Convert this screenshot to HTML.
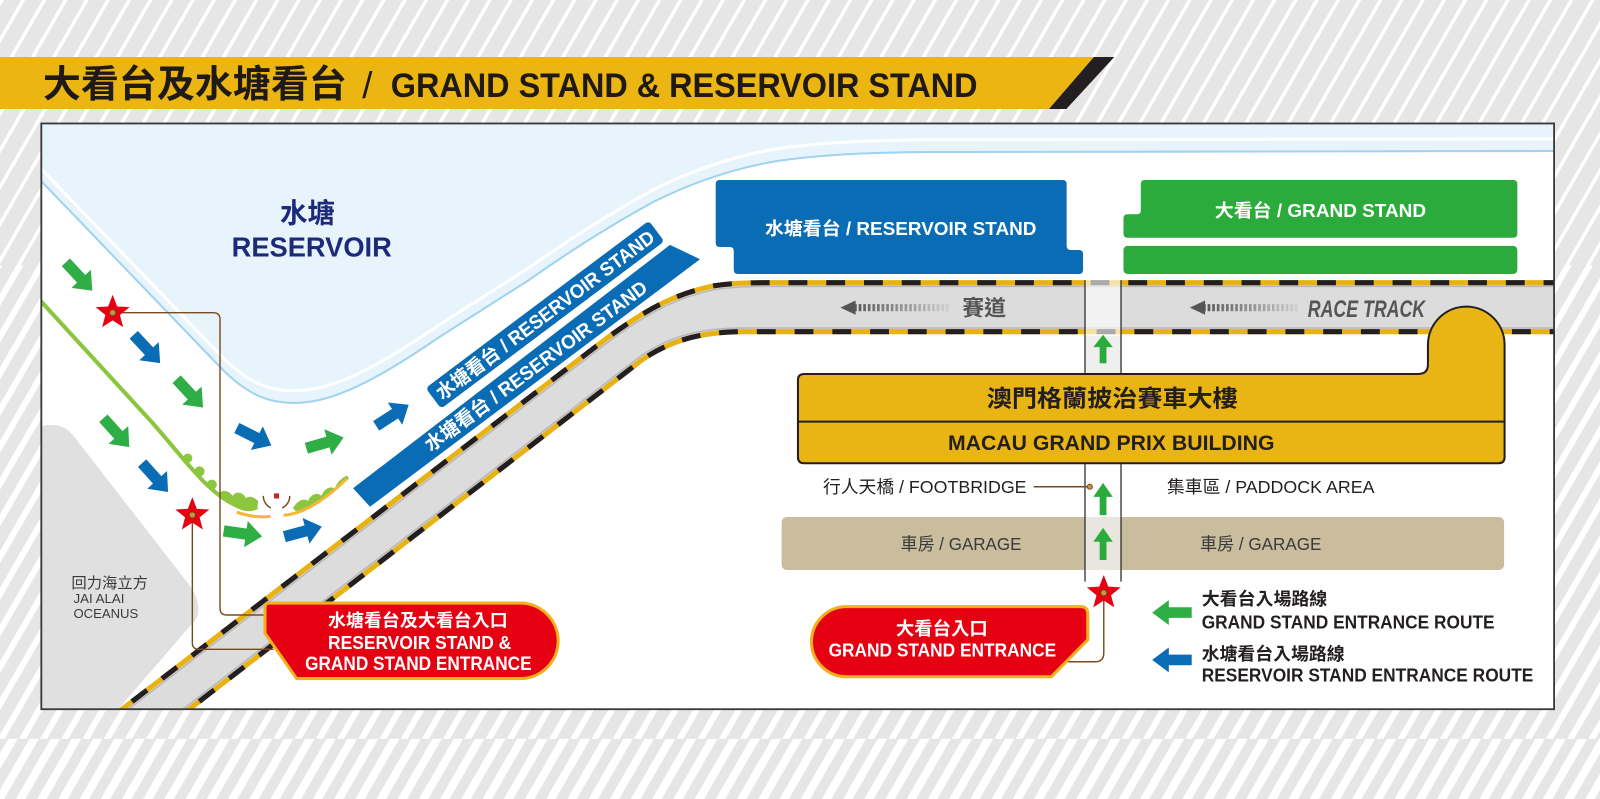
<!DOCTYPE html>
<html><head><meta charset="utf-8"><style>
html,body{margin:0;padding:0;width:1600px;height:799px;overflow:hidden;background:#e6e6e6}
svg{display:block}
text{font-family:"Liberation Sans","Noto Sans CJK TC",sans-serif}
</style></head><body>
<svg width="1600" height="799" viewBox="0 0 1568 783" preserveAspectRatio="none" xmlns="http://www.w3.org/2000/svg">
<defs>
 <pattern id="s1" width="18" height="18" patternUnits="userSpaceOnUse" patternTransform="rotate(30)"><rect width="3.4" height="18" fill="#fff"/></pattern>
 <pattern id="s2" width="18" height="18" patternUnits="userSpaceOnUse" patternTransform="rotate(30)"><rect width="6" height="18" fill="#fff"/></pattern>
 <pattern id="s3" width="18" height="18" patternUnits="userSpaceOnUse" patternTransform="rotate(30) translate(9,0)"><rect width="8" height="18" fill="#fff"/></pattern>
 <pattern id="bars" width="4.5" height="10" patternUnits="userSpaceOnUse"><rect width="2.6" height="10" fill="#555"/></pattern>
 <linearGradient id="fade" x1="0" x2="1" y1="0" y2="0"><stop offset="0" stop-color="#dcdcdc" stop-opacity="0"/><stop offset="1" stop-color="#dcdcdc" stop-opacity="0.92"/></linearGradient>
 <clipPath id="pc"><rect x="40.5" y="121" width="1482.5" height="574"/></clipPath>
 <polygon id="star" points="0,-17.5 4.41,-6.07 16.64,-5.41 7.13,2.32 10.29,14.16 0,7.5 -10.29,14.16 -7.13,2.32 -16.64,-5.41 -4.41,-6.07"/>
 <polygon id="arr" points="-19,-5.5 3,-5.5 3,-13 19,0 3,13 3,5.5 -19,5.5"/>
 <polygon id="up" points="0,-15 10,-2 3.5,-2 3.5,15 -3.5,15 -3.5,-2 -10,-2"/>
</defs>

<!-- background -->
<rect width="1568" height="783" fill="#e6e6e6"/>
<rect y="0" width="1568" height="260" fill="url(#s1)"/>
<rect y="260" width="1568" height="464" fill="url(#s2)"/>
<rect y="724" width="1568" height="59" fill="url(#s3)"/>

<!-- header -->
<polygon points="0,55.9 1072,55.9 1028,106.8 0,106.8" fill="#ebb512"/>
<polygon points="1072,55.9 1092,55.9 1045,106.8 1028,106.8" fill="#231f20"/>
<text x="42" y="95" font-size="37" font-weight="bold" fill="#1f1a17" textLength="298" lengthAdjust="spacingAndGlyphs">大看台及水塘看台</text>
<text x="355" y="96" font-size="36" fill="#1f1a17">/</text>
<text x="383" y="95" font-size="34" font-weight="bold" fill="#1f1a17" textLength="575" lengthAdjust="spacingAndGlyphs">GRAND STAND &amp; RESERVOIR STAND</text>

<!-- panel -->
<rect x="40.5" y="121" width="1482.5" height="574" fill="#fff"/>
<g clip-path="url(#pc)">
 <!-- reservoir -->
 <path d="M39,121 V176 L216,360 C245,390 270,398 301,394 C340,390 390,358 431,330 L519,274 C560,245 600,220 640,198 C680,178 720,165 760,158 C800,152 840,150 900,149 L1530,148 V121 Z" fill="#e8f4fc"/>
 <path d="M39,176 L216,360 C245,390 270,398 301,394 C340,390 390,358 431,330 L519,274 C560,245 600,220 640,198 C680,178 720,165 760,158 C800,152 840,150 900,149 L1530,148" fill="none" stroke="#fff" stroke-width="3" transform="translate(0,-12)"/>
 <path d="M39,176 L216,360 C245,390 270,398 301,394 C340,390 390,358 431,330 L519,274 C560,245 600,220 640,198 C680,178 720,165 760,158 C800,152 840,150 900,149 L1530,148" fill="none" stroke="#9fd3ef" stroke-width="2"/>
 <text x="274.4" y="218" font-size="27" font-weight="bold" fill="#1d2a7c" textLength="54" lengthAdjust="spacingAndGlyphs">水塘</text>
 <text x="227" y="251.5" font-size="27" font-weight="bold" fill="#1d2a7c" textLength="157" lengthAdjust="spacingAndGlyphs">RESERVOIR</text>

 <!-- jai alai -->
 <path d="M39,418 Q45,416 52,416.5 Q64,417 72,427 L183,570 Q200,592 192,607 L114,697 L39,697 Z" fill="#e0e0e0"/>
 <text x="70" y="576" font-size="14.5" fill="#3a3a3a" textLength="75" lengthAdjust="spacingAndGlyphs">回力海立方</text>
 <text x="72" y="591" font-size="12.5" fill="#3a3a3a" textLength="50" lengthAdjust="spacingAndGlyphs">JAI ALAI</text>
 <text x="72" y="605.5" font-size="12.5" fill="#3a3a3a" textLength="63.5" lengthAdjust="spacingAndGlyphs">OCEANUS</text>

 <!-- park -->
 <path d="M39,294 L150,415 C185,455 205,485 235,497 C242,500 248,499 252,497" stroke="#8cc63f" stroke-width="4" fill="none"/>
 <circle cx="184" cy="449" r="4.5" fill="#8cc63f"/>
 <circle cx="195.5" cy="462" r="5" fill="#8cc63f"/>
 <circle cx="207.5" cy="475" r="5" fill="#8cc63f"/>
 <path d="M212,484 C222,494 235,499 252,499 L253,491 C248,486 244,486 241,488 C238,482 231,481 228,486 C224,480 217,480 214,484 Z" fill="#8cc63f"/>
 <path d="M287,498 C292,490 298,488 302,491 C304,484 312,482 315,486 C318,478 325,476 328,479 C330,472 336,468 340,466 L342,469 C330,480 310,495 290,501 Z" fill="#8cc63f"/>
 <path d="M232,502 Q250,508 265,506" stroke="#f7b63a" stroke-width="3" fill="none"/>
 <path d="M278,505 Q305,503 340,469" stroke="#f7b63a" stroke-width="3" fill="none"/>
 <rect x="268.5" y="483.5" width="5" height="5" fill="#c1272d"/>
 <path d="M258,486 A13,13 0 0 0 265.5,497.8 M284,486 A13,13 0 0 1 276.5,497.8" stroke="#7a4a1e" stroke-width="1.4" fill="none"/>

 <!-- road -->
 <path d="M100,710 L590,335 C630,305 660,288 700,280 C720,277 740,277 760,277 L1530,277 L1530,325 L730,325 C690,325 660,332 630,352 L166,710 Z" fill="#dcdcdc"/>
 <path d="M100,710 L590,335 C630,305 660,288 700,280 C720,277 740,277 760,277 L1530,277" fill="none" stroke="#b8b8b8" stroke-width="1.5" transform="translate(1.5,3.6)"/>
 <path d="M166,710 L630,352 C660,332 690,325 730,325 L1530,325" fill="none" stroke="#b8b8b8" stroke-width="1.5" transform="translate(-1.5,-3.6)"/>
 <path d="M100,710 L590,335 C630,305 660,288 700,280 C720,277 740,277 760,277 L1530,277" fill="none" stroke="#e9b213" stroke-width="5"/>
 <path d="M100,710 L590,335 C630,305 660,288 700,280 C720,277 740,277 760,277 L1530,277" fill="none" stroke="#231f20" stroke-width="5" stroke-dasharray="18.5,18.5"/>
 <path d="M166,710 L630,352 C660,332 690,325 730,325 L1530,325" fill="none" stroke="#e9b213" stroke-width="5"/>
 <path d="M166,710 L630,352 C660,332 690,325 730,325 L1530,325" fill="none" stroke="#231f20" stroke-width="5" stroke-dasharray="18.5,18.5"/>

 <!-- track arrows/text -->
 <polygon points="823.5,301.5 838.5,294.5 838.5,308.5" fill="#555"/>
 <rect x="837" y="298" width="93" height="7" fill="url(#bars)"/>
 <rect x="837" y="297" width="94" height="9" fill="url(#fade)"/>
 <text x="943" y="309" font-size="21" font-weight="bold" fill="#555" textLength="43" lengthAdjust="spacingAndGlyphs">賽道</text>
 <polygon points="1166,301.5 1181,294.5 1181,308.5" fill="#555"/>
 <rect x="1180" y="298" width="93" height="7" fill="url(#bars)"/>
 <rect x="1180" y="297" width="94" height="9" fill="url(#fade)"/>
 <text x="1281.6" y="310.5" font-size="24" font-weight="bold" font-style="italic" fill="#555" textLength="115" lengthAdjust="spacingAndGlyphs">RACE TRACK</text>

 <!-- banners -->
 <g transform="translate(534.1,308.4) rotate(-36.86)">
  <rect x="-136.7" y="-12.65" width="273.4" height="25.3" rx="4" fill="#0a6cb4"/>
  <text x="0" y="6.8" text-anchor="middle" font-size="19" font-weight="bold" fill="#fff" textLength="262" lengthAdjust="spacingAndGlyphs">水塘看台 / RESERVOIR STAND</text>
 </g>
 <polygon points="346,478.5 656.6,240 686,254 362.6,496.6" fill="#0a6cb4"/>
 <g transform="translate(525,358.4) rotate(-36.6)">
  <text x="0" y="6.8" text-anchor="middle" font-size="19" font-weight="bold" fill="#fff" textLength="266" lengthAdjust="spacingAndGlyphs">水塘看台 / RESERVOIR STAND</text>
 </g>

 <!-- stands -->
 <path d="M705.4,176.4 H1041.3 Q1045.3,176.4 1045.3,180.4 V241 Q1045.3,245 1049.3,245 H1057.4 Q1061.4,245 1061.4,249 V264.5 Q1061.4,268.5 1057.4,268.5 H723.1 Q719.1,268.5 719.1,264.5 V246 Q719.1,242 715.1,242 H705.4 Q701.4,242 701.4,238 V180.4 Q701.4,176.4 705.4,176.4 Z" fill="#0a6cb4"/>
 <text x="749.7" y="230.5" font-size="18" font-weight="bold" fill="#fff" textLength="266" lengthAdjust="spacingAndGlyphs">水塘看台 / RESERVOIR STAND</text>
 <path d="M1122,176.4 H1483 Q1487,176.4 1487,180.4 V229 Q1487,233 1483,233 H1105 Q1101,233 1101,229 V214 Q1101,210 1105,210 H1114 Q1118,210 1118,206 V180.4 Q1118,176.4 1122,176.4 Z" fill="#2aab3c"/>
 <rect x="1101" y="241" width="386" height="27.5" rx="4" fill="#2aab3c"/>
 <text x="1190.5" y="212.5" font-size="18" font-weight="bold" fill="#fff" textLength="207" lengthAdjust="spacingAndGlyphs">大看台 / GRAND STAND</text>

 <!-- garage -->
 <rect x="766" y="506.6" width="708" height="52" rx="5" fill="#c9bd9d"/>
 <text x="882.6" y="539" font-size="17" fill="#3a3a3a" textLength="118.4" lengthAdjust="spacingAndGlyphs">車房 / GARAGE</text>
 <text x="1176" y="539" font-size="17" fill="#3a3a3a" textLength="119" lengthAdjust="spacingAndGlyphs">車房 / GARAGE</text>

 <!-- footbridge -->
 <rect x="1063.3" y="272" width="35.3" height="57" fill="#fff" fill-opacity="0.62"/>
 <rect x="1063.3" y="329" width="35.3" height="38" fill="#efefef"/>
 <rect x="1063.3" y="506.6" width="35.3" height="52" fill="#e9e6df"/>
 <path d="M1063.3,274.5 V570 M1098.6,274.5 V570" stroke="#333" stroke-width="1.3" fill="none"/>
 <use href="#up" transform="translate(1081,342) scale(0.95,0.93)" fill="#2aab3c"/>
 <use href="#up" transform="translate(1081,489) scale(0.95,1.05)" fill="#2aab3c"/>
 <use href="#up" transform="translate(1081,533) scale(0.95,1.05)" fill="#2aab3c"/>

 <!-- building -->
 <path d="M788,366.5 H1390 Q1399.4,366.5 1399.4,357 V338 A37.5,37.5 0 0 1 1474.5,338 V448 Q1474.5,454 1468.5,454 H788 Q782,454 782,448 V372.5 Q782,366.5 788,366.5 Z" fill="#e9b514" stroke="#231f20" stroke-width="2"/>
 <line x1="782" y1="413.2" x2="1474.5" y2="413.2" stroke="#231f20" stroke-width="2"/>
 <text x="967" y="398.5" font-size="23" font-weight="bold" fill="#231f20" textLength="246" lengthAdjust="spacingAndGlyphs">澳門格蘭披治賽車大樓</text>
 <text x="929" y="441" font-size="21" font-weight="bold" fill="#231f20" textLength="320" lengthAdjust="spacingAndGlyphs">MACAU GRAND PRIX BUILDING</text>

 <!-- labels -->
 <text x="806.5" y="483" font-size="17" fill="#231f20" textLength="199.5" lengthAdjust="spacingAndGlyphs">行人天橋 / FOOTBRIDGE</text>
 <text x="1143.6" y="483" font-size="17" fill="#231f20" textLength="203.4" lengthAdjust="spacingAndGlyphs">集車區 / PADDOCK AREA</text>
 <line x1="1013" y1="477" x2="1066" y2="477" stroke="#7a4a1e" stroke-width="1.4"/>
 <circle cx="1068" cy="477" r="2.5" fill="#c8963e" stroke="#7a4a1e" stroke-width="1"/>

 <!-- arrows -->
 <use href="#arr" transform="translate(77.5,271) rotate(47)" fill="#2fae45"/>
 <use href="#arr" transform="translate(144,342) rotate(47)" fill="#0a6cb4"/>
 <use href="#arr" transform="translate(186,385.5) rotate(47)" fill="#2fae45"/>
 <use href="#arr" transform="translate(114,424) rotate(48)" fill="#2fae45"/>
 <use href="#arr" transform="translate(152,468) rotate(48)" fill="#0a6cb4"/>
 <use href="#arr" transform="translate(249,428) rotate(27)" fill="#0a6cb4"/>
 <use href="#arr" transform="translate(318.5,434) rotate(-16)" fill="#2fae45"/>
 <use href="#arr" transform="translate(384.6,407) rotate(-33)" fill="#0a6cb4"/>
 <use href="#arr" transform="translate(238,523) rotate(8)" fill="#2fae45"/>
 <use href="#arr" transform="translate(297,521) rotate(-15)" fill="#0a6cb4"/>

 <!-- leaders -->
 <path d="M110.4,306.4 H209 Q215.6,306.4 215.6,313 V596 Q215.6,602.7 222,602.7 H262" stroke="#7a4a1e" stroke-width="1.4" fill="none"/>
 <path d="M188.5,504.7 V630 Q188.5,636.3 195,636.3 H268" stroke="#7a4a1e" stroke-width="1.4" fill="none"/>
 <path d="M1081.7,581 V640 Q1081.7,648.5 1073,648.5 H1040" stroke="#7a4a1e" stroke-width="1.4" fill="none"/>

 <!-- stars -->
 <use href="#star" transform="translate(110.4,306.4)" fill="#e50012"/>
 <circle cx="110.4" cy="306.4" r="3" fill="#c8963e" stroke="#7a4a1e" stroke-width="1"/>
 <use href="#star" transform="translate(188.5,504.7)" fill="#e50012"/>
 <circle cx="188.5" cy="504.7" r="3" fill="#c8963e" stroke="#7a4a1e" stroke-width="1"/>
 <use href="#star" transform="translate(1081.7,581)" fill="#e50012"/>
 <circle cx="1081.7" cy="581" r="3" fill="#c8963e" stroke="#7a4a1e" stroke-width="1"/>

 <!-- left entrance pill -->
 <path d="M263,591 H510 A37,37 0 0 1 510,665 H290.7 L259.7,620.5 V596 Q259.7,591 263,591 Z" fill="#e50012" stroke="#f2b01e" stroke-width="3"/>
 <text x="321.5" y="614" font-size="17.5" font-weight="bold" fill="#fff" textLength="176" lengthAdjust="spacingAndGlyphs">水塘看台及大看台入口</text>
 <text x="321.5" y="636" font-size="18.5" font-weight="bold" fill="#fff" textLength="179.5" lengthAdjust="spacingAndGlyphs">RESERVOIR STAND &amp;</text>
 <text x="299" y="656.6" font-size="19" font-weight="bold" fill="#fff" textLength="222" lengthAdjust="spacingAndGlyphs">GRAND STAND ENTRANCE</text>

 <!-- grand stand entrance pill -->
 <path d="M829.6,594.5 H1059 Q1066,594.5 1066,601.5 V627 L1030.4,663.2 H829.6 A34.35,34.35 0 0 1 829.6,594.5 Z" fill="#e50012" stroke="#f2b01e" stroke-width="3"/>
 <text x="878" y="622.5" font-size="18" font-weight="bold" fill="#fff" textLength="90" lengthAdjust="spacingAndGlyphs">大看台入口</text>
 <text x="812" y="643.6" font-size="18.5" font-weight="bold" fill="#fff" textLength="223" lengthAdjust="spacingAndGlyphs">GRAND STAND ENTRANCE</text>

 <!-- legend -->
 <use href="#arr" transform="translate(1148.5,600.3) rotate(180) scale(1.02,0.94)" fill="#2fae45"/>
 <use href="#arr" transform="translate(1148.5,646.7) rotate(180) scale(1.02,0.94)" fill="#0a6cb4"/>
 <text x="1177.7" y="593" font-size="17.5" font-weight="bold" fill="#231f20" textLength="123" lengthAdjust="spacingAndGlyphs">大看台入場路線</text>
 <text x="1177.7" y="615.8" font-size="18" font-weight="bold" fill="#231f20" textLength="287" lengthAdjust="spacingAndGlyphs">GRAND STAND ENTRANCE ROUTE</text>
 <text x="1177.7" y="647" font-size="17.5" font-weight="bold" fill="#231f20" textLength="140" lengthAdjust="spacingAndGlyphs">水塘看台入場路線</text>
 <text x="1177.7" y="668" font-size="18" font-weight="bold" fill="#231f20" textLength="325" lengthAdjust="spacingAndGlyphs">RESERVOIR STAND ENTRANCE ROUTE</text>
</g>
<rect x="40.5" y="121" width="1482.5" height="574" fill="none" stroke="#3a3a3a" stroke-width="1.8"/>
</svg>
</body></html>
